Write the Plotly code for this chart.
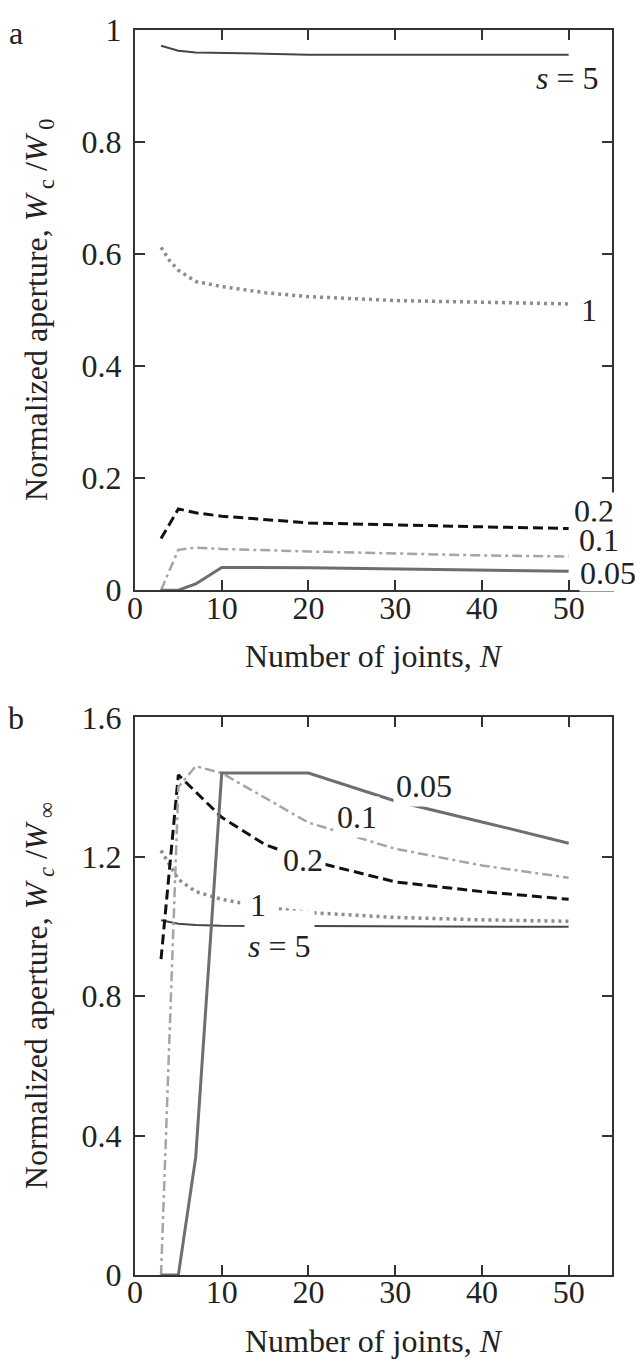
import plotly.graph_objects as go
from plotly.subplots import make_subplots

# ---------------- data ----------------
series_labels = ["s = 5", "1", "0.2", "0.1", "0.05"]

# Panel a: W_c / W_0
a_s5_N = [3, 4, 5, 7, 10, 15, 20, 30, 40, 50]
a_s5 = [0.972, 0.967, 0.963, 0.960, 0.959, 0.957, 0.956, 0.956, 0.956, 0.956]
a_s1_N = [3, 4, 5, 7, 10, 15, 20, 30, 40, 50]
a_s1 = [0.612, 0.588, 0.571, 0.551, 0.542, 0.531, 0.524, 0.517, 0.514, 0.511]
a_s02_N = [3, 5, 7, 10, 20, 30, 40, 50]
a_s02 = [0.092, 0.145, 0.138, 0.132, 0.120, 0.116, 0.113, 0.110]
a_s01_N = [3, 5, 7, 10, 20, 30, 40, 50]
a_s01 = [0.0, 0.072, 0.076, 0.0735, 0.069, 0.065, 0.062, 0.060]
a_s005_N = [3, 5, 7, 10, 20, 30, 40, 50]
a_s005 = [0.0, 0.0, 0.011, 0.0405, 0.040, 0.038, 0.036, 0.0335]

# Panel b: W_c / W_inf
b_s5_N = [3, 5, 7, 10, 20, 30, 40, 50]
b_s5 = [1.018, 1.008, 1.004, 1.002, 1.001, 1.000, 0.999, 0.999]
b_s1_N = [3, 5, 7, 10, 15, 20, 30, 40, 50]
b_s1 = [1.218, 1.135, 1.100, 1.078, 1.055, 1.040, 1.026, 1.019, 1.015]
b_s02_N = [3, 5, 10, 15, 20, 30, 40, 50]
b_s02 = [0.906, 1.435, 1.313, 1.235, 1.190, 1.128, 1.100, 1.078]
b_s01_N = [3, 5, 7, 10, 20, 30, 40, 50]
b_s01 = [0.0, 1.40, 1.46, 1.44, 1.298, 1.223, 1.175, 1.140]
b_s005_N = [3, 5, 7, 10, 20, 30, 40, 50]
b_s005 = [0.0, 0.0, 0.338, 1.44, 1.44, 1.36, 1.30, 1.239]

x_ticks = [0, 10, 20, 30, 40, 50]
a_yticks = [0, 0.2, 0.4, 0.6, 0.8, 1]
b_yticks = [0, 0.4, 0.8, 1.2, 1.6]

# label positions (data coords) for curve labels
a_label_pos = [(49.9, 0.914), (52.3, 0.500), (52.9, 0.142), (53.5, 0.089), (54.5, 0.030)]
b_label_pos = [(16.7, 0.948), (14.2, 1.062), (19.4, 1.192), (25.6, 1.315), (33.3, 1.403)]

# ---------------- styles ----------------
FONT = "Liberation Serif, Times New Roman, serif"
FS = 32
TXT = "#222222"
styles = [
    dict(color="#464646", width=2.0, dash="solid"),
    dict(color="#8c8c8c", width=3.5, dash="3px,4px"),
    dict(color="#111111", width=3.0, dash="10px,5px"),
    dict(color="#a5a5a5", width=2.5, dash="10px,4px,3px,4px"),
    dict(color="#6e6e6e", width=3.0, dash="solid"),
]

fig = make_subplots(rows=2, cols=1, vertical_spacing=0.1)

a_data = [(a_s5_N, a_s5), (a_s1_N, a_s1), (a_s02_N, a_s02), (a_s01_N, a_s01), (a_s005_N, a_s005)]
b_data = [(b_s5_N, b_s5), (b_s1_N, b_s1), (b_s02_N, b_s02), (b_s01_N, b_s01), (b_s005_N, b_s005)]

for (xs, ys), st in zip(a_data, styles):
    fig.add_trace(go.Scatter(x=xs, y=ys, mode="lines", line=st, showlegend=False), row=1, col=1)
for (xs, ys), st in zip(b_data, styles):
    fig.add_trace(go.Scatter(x=xs, y=ys, mode="lines", line=st, showlegend=False), row=2, col=1)

axis_common = dict(
    showline=True, mirror="ticks", linecolor="#333333", linewidth=2,
    ticks="inside", ticklen=10, tickwidth=2, tickcolor="#333333",
    showgrid=False, zeroline=False,
    tickfont=dict(family=FONT, size=FS, color=TXT),
)

fig.update_xaxes(**axis_common, range=[0, 55], tickvals=x_ticks)
fig.update_yaxes(**axis_common)
fig.update_yaxes(range=[0, 1], tickvals=a_yticks, row=1, col=1)
fig.update_yaxes(range=[0, 1.6], tickvals=b_yticks, row=2, col=1)

fig.update_layout(
    width=635, height=1364,
    margin=dict(l=135, r=23, t=17, b=89),
    plot_bgcolor="white", paper_bgcolor="white",
    font=dict(family=FONT, size=FS, color=TXT),
    xaxis=dict(domain=[0, 1], ticklabelstandoff=-12),
    yaxis=dict(domain=[0.5501, 1.0], ticklabelstandoff=5),
    xaxis2=dict(domain=[0, 1], ticklabelstandoff=-12),
    yaxis2=dict(domain=[0.0, 0.4479], ticklabelstandoff=5),
)

ann = []
# curve labels, panel a
for (x, y), txt in zip(a_label_pos, series_labels):
    t = "<i>s</i> = 5" if txt == "s = 5" else txt
    ann.append(dict(x=x, y=y, xref="x", yref="y", text=t, showarrow=False,
                    font=dict(family=FONT, size=FS, color=TXT),
                    bgcolor="white", borderpad=0))
# curve labels, panel b
for (x, y), txt in zip(b_label_pos, series_labels):
    if txt == "s = 5":
        ann.append(dict(x=x, y=y, xref="x2", yref="y2", text="<i>s</i> = 5", showarrow=False,
                        font=dict(family=FONT, size=FS, color=TXT),
                        bgcolor="white", borderpad=3, height=50, valign="bottom", yshift=6))
    elif txt == "1":
        ann.append(dict(x=x, y=y, xref="x2", yref="y2", text=txt, showarrow=False,
                        font=dict(family=FONT, size=FS, color=TXT),
                        bgcolor="white", borderpad=0, width=34))
    else:
        ann.append(dict(x=x, y=y, xref="x2", yref="y2", text=txt, showarrow=False,
                        font=dict(family=FONT, size=FS, color=TXT),
                        bgcolor="white", borderpad=2))

# axis titles
ann.append(dict(x=0, y=0.5, xref="paper", yref="y domain", xanchor="center", yanchor="middle",
                xshift=-97, textangle=-90, showarrow=False,
                text="Normalized aperture, <i>W</i><sub> c</sub> /<i>W</i><sub> 0</sub>",
                font=dict(family=FONT, size=FS, color=TXT)))
ann.append(dict(x=0, y=0.5, xref="paper", yref="y2 domain", xanchor="center", yanchor="middle",
                xshift=-97, textangle=-90, showarrow=False,
                text="Normalized aperture, <i>W</i><sub> <i>c</i></sub> /<i>W</i><sub> ∞</sub>",
                font=dict(family=FONT, size=FS, color=TXT)))
ann.append(dict(x=0.5, y=0, xref="x domain", yref="y domain", xanchor="center", yanchor="middle",
                yshift=-66, showarrow=False, text="Number of joints, <i>N</i>",
                font=dict(family=FONT, size=FS, color=TXT)))
ann.append(dict(x=0.5, y=0, xref="x2 domain", yref="y2 domain", xanchor="center", yanchor="middle",
                yshift=-66, showarrow=False, text="Number of joints, <i>N</i>",
                font=dict(family=FONT, size=FS, color=TXT)))
# panel letters
ann.append(dict(x=0, y=1, xref="paper", yref="y domain", xanchor="center", yanchor="middle",
                xshift=-119, yshift=-3, showarrow=False, text="a",
                font=dict(family=FONT, size=FS, color=TXT)))
ann.append(dict(x=0, y=1, xref="paper", yref="y2 domain", xanchor="center", yanchor="middle",
                xshift=-119, yshift=-1, showarrow=False, text="b",
                font=dict(family=FONT, size=FS, color=TXT)))

fig.update_layout(annotations=ann)
fig.write_html("out.html")
